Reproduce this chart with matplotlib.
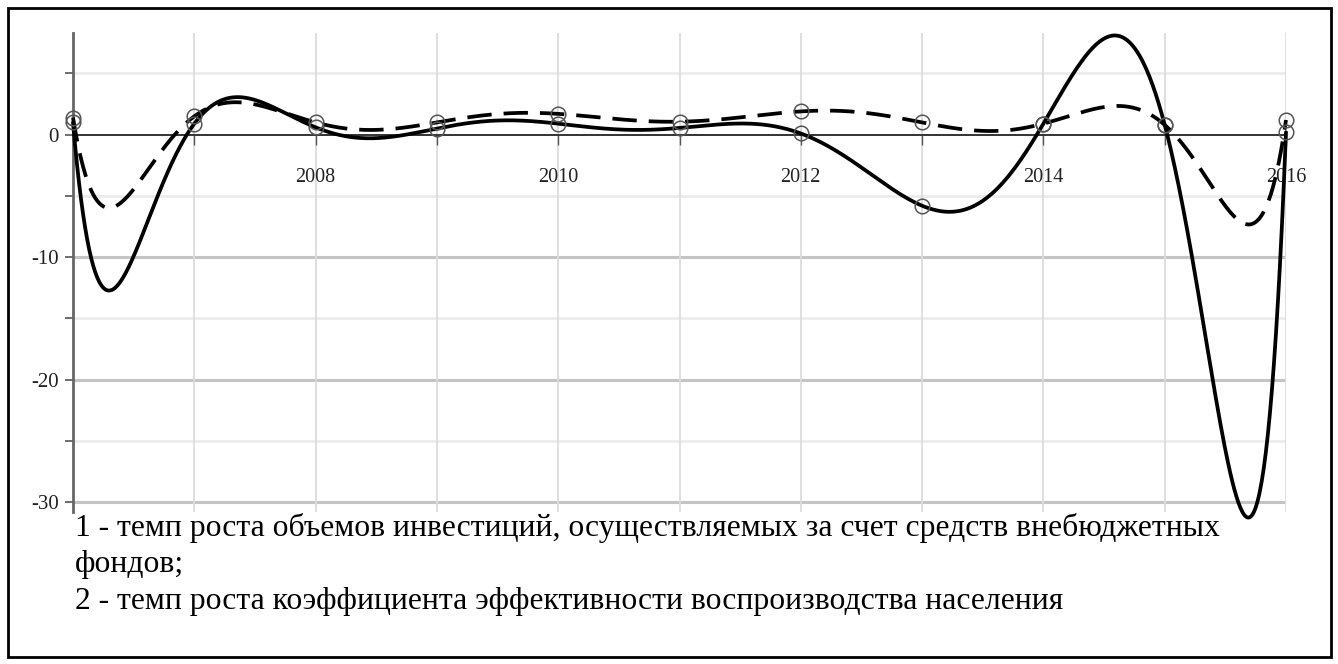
import numpy as np
import matplotlib
matplotlib.use("Agg")
import matplotlib.pyplot as plt
from matplotlib.patches import Rectangle
from matplotlib.ticker import FixedLocator

plt.rcParams['font.family'] = ['Liberation Serif', 'DejaVu Serif']
plt.rcParams['axes.unicode_minus'] = False

# ---- data ----
years = [2006, 2007, 2008, 2009, 2010, 2011, 2012, 2013, 2014, 2015, 2016]
series1 = [1.0, 0.9, 0.6, 0.5, 0.9, 0.55, 0.1, -5.8, 0.9, 0.8, 0.2]   # solid
series2 = [1.4, 1.5, 1.0, 1.0, 1.7, 1.06, 1.9, 1.0, 0.9, 0.8, 1.2]    # dashed
xtick_labels = ['', '', '2008', '', '2010', '', '2012', '', '2014', '', '2016']
ytick_values = [-30, -20, -10, 0]
caption = ["1 - темп роста объемов инвестиций, осуществляемых за счет средств внебюджетных",
           "фондов;",
           "2 - темп роста коэффициента эффективности воспроизводства населения"]

W, H = 1338, 664
fig = plt.figure(figsize=(W / 100, H / 100), dpi=100)
ax = fig.add_axes([73 / W, 1 - 512 / H, (1286 - 73) / W, (512 - 33) / H])
ax.set_xlim(2006, 2016)
ax.set_ylim(-30.8, 8.3)

# interpolating polynomial through the yearly points (as in the source)
xs = np.linspace(2006, 2016, 1200)
for vals, ls in [(series1, '-'), (series2, (0, (6.5, 3.2)))]:
    p = np.polynomial.Polynomial.fit(years, vals, deg=len(years) - 1)
    ax.plot(xs, p(xs), color='black', lw=2.7, ls=ls, zorder=4,
            solid_capstyle='round', clip_on=False)
    ax.plot(years, vals, ls='none', marker='o', ms=10.5, mfc='none',
            mec='#555555', mew=1.1, zorder=5, clip_on=False)

# grid
ax.set_xticks(years)
ax.set_xticklabels(xtick_labels)
ax.yaxis.set_major_locator(FixedLocator(ytick_values))
ax.yaxis.set_minor_locator(FixedLocator([-25, -15, -5, 5]))
for y in ytick_values:
    if y != 0:
        ax.axhline(y, color='#c4c4c4', lw=2.2, zorder=1)
for y in [-25, -15, -5, 5]:
    ax.axhline(y, color='#ececec', lw=2.0, zorder=1)
for x in years[1:]:
    ax.axvline(x, color='#dcdcdc', lw=1.3, zorder=1)

# spines / axes
for s in ['top', 'right']:
    ax.spines[s].set_visible(False)
ax.spines['bottom'].set_position(('data', 0))
ax.spines['bottom'].set_color('#333333')
ax.spines['bottom'].set_linewidth(1.4)
ax.spines['bottom'].set_zorder(3)
ax.spines['left'].set_color('#666666')
ax.spines['left'].set_linewidth(2)

ax.tick_params(axis='x', direction='out', length=7, width=1, color='#555555',
               pad=17, labelsize=14.5, labelcolor='#222222')
ax.tick_params(axis='y', which='both', direction='out', length=6, width=1.2,
               color='#555555', pad=4, labelsize=15, labelcolor='#222222')
ax.set_yticklabels([str(v) for v in ytick_values])

# caption
for txt, yb in zip(caption, [536, 572, 609]):
    fig.text(75 / W, 1 - yb / H, txt, fontsize=22.8, va='baseline', ha='left',
             color='black')

# outer frame
fig.patches.append(Rectangle((8 / W, 1 - 657 / H), (1331 - 8) / W, (657 - 8) / H,
                             transform=fig.transFigure, fill=False,
                             edgecolor='black', lw=2))

fig.savefig('out.png', dpi=100, facecolor='white')
